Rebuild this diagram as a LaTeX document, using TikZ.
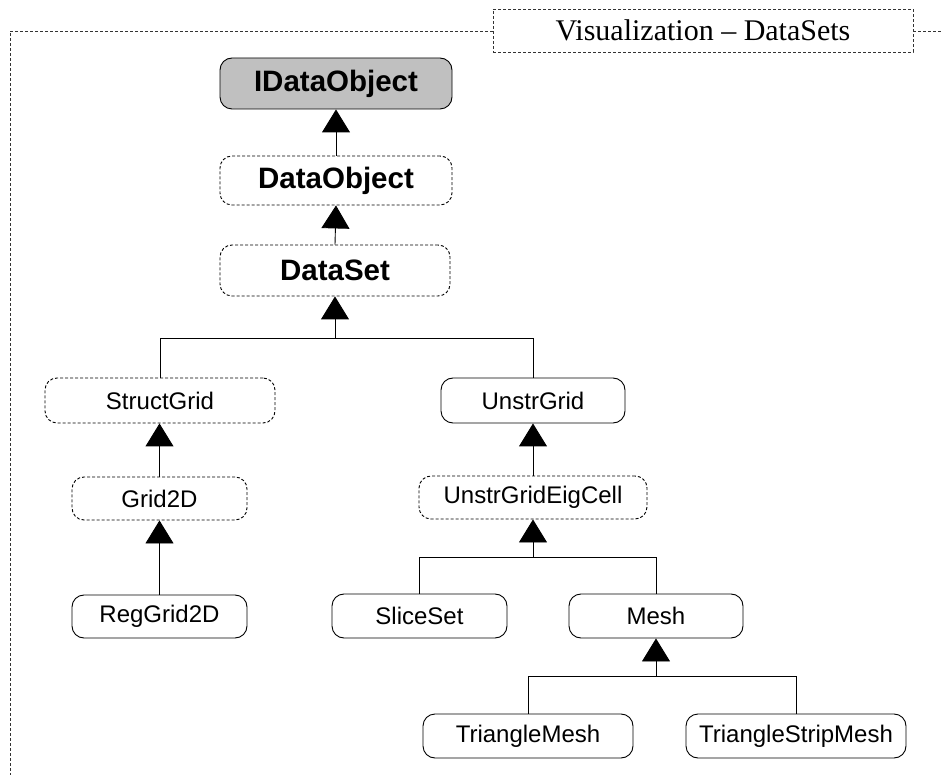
\documentclass[tikz,border=0pt]{standalone}
\usepackage{fontspec}
\setmainfont{Liberation Serif}
\newfontfamily\arialfont{Liberation Sans}
\usetikzlibrary{arrows.meta}
\tikzset{
  cls/.style={draw=black, line width=0.9pt, rounded corners=12pt, inner sep=0pt,
    font=\arialfont\fontsize{24}{28}\selectfont, text=black},
  abstractcls/.style={cls, dash pattern=on 3pt off 2pt},
  boldcls/.style={font=\arialfont\bfseries\fontsize{29.5}{33}\selectfont},
  inherit/.style={draw=black, line width=0.9pt, -{Triangle[length=23pt,width=28pt]}},
  branch/.style={draw=black, line width=0.9pt},
  frameline/.style={draw=black!80, line width=0.9pt, dash pattern=on 3pt off 2pt},
}
\begin{document}
\begin{tikzpicture}[x=1pt,y=-1pt]
\useasboundingbox (0,0) rectangle (943,775);
% frame
\node[frameline, draw, minimum width=420pt, minimum height=43pt, inner sep=0pt,
  font=\fontsize{30}{34}\selectfont] (title) at (703,30.5) {Visualization -- DataSets};
\coordinate (ftl) at (10,31);
\coordinate (fbl) at (10,775);
\coordinate (fr) at (943,31);
\draw[frameline] (title.west |- ftl) -- (ftl) -- (fbl);
\draw[frameline] (title.east |- fr) -- (fr);
% classes
\node[cls, boldcls, fill={rgb,255:red,192;green,192;blue,192}, minimum width=232pt, minimum height=51pt] (ido) at (336,83.5) {IDataObject};
\node[abstractcls, boldcls, minimum width=232pt, minimum height=49pt] (do) at (336,180.5) {DataObject};
\node[abstractcls, boldcls, minimum width=230pt, minimum height=51pt] (ds) at (335,270.5) {DataSet};
\node[abstractcls, minimum width=230pt, minimum height=45pt] (sg) at (160,400.5) {StructGrid};
\node[cls, minimum width=184pt, minimum height=45pt] (ug) at (533,400.5) {UnstrGrid};
\node[abstractcls, minimum width=175pt, minimum height=43pt] (g2) at (159.5,498.5) {Grid2D};
\node[abstractcls, minimum width=228pt, minimum height=43pt] (uge) at (533,497.5) {UnstrGridEigCell};
\node[cls, minimum width=175pt, minimum height=43pt] (rg) at (159.5,616.5) {RegGrid2D};
\node[cls, minimum width=175pt, minimum height=44pt] (ss) at (419.5,616) {SliceSet};
\node[cls, minimum width=174pt, minimum height=44pt] (mesh) at (656,616) {Mesh};
\node[cls, minimum width=210pt, minimum height=44pt] (tm) at (528,736) {TriangleMesh};
\node[cls, minimum width=220pt, minimum height=44pt] (tsm) at (796,736) {TriangleStripMesh};
% junctions
\coordinate (j1) at (335,338);
\coordinate (j2) at (533,557);
\coordinate (j3) at (656,676);
% connectors
\draw[inherit] (do.north) -- (ido.south);
\draw[inherit] (ds.north) -- (do.south);
\draw[branch] (sg.north) |- (j1);
\draw[branch] (ug.north) |- (j1);
\draw[inherit] (j1) -- (ds.south);
\draw[inherit] (g2.north) -- (sg.south -| g2.north);
\draw[inherit] (rg.north) -- (g2.south);
\draw[inherit] (uge.north) -- (ug.south);
\draw[branch] (ss.north) |- (j2);
\draw[branch] (mesh.north) |- (j2);
\draw[inherit] (j2) -- (uge.south);
\draw[branch] (tm.north) |- (j3);
\draw[branch] (tsm.north) |- (j3);
\draw[inherit] (j3) -- (mesh.south);
\end{tikzpicture}
\end{document}
